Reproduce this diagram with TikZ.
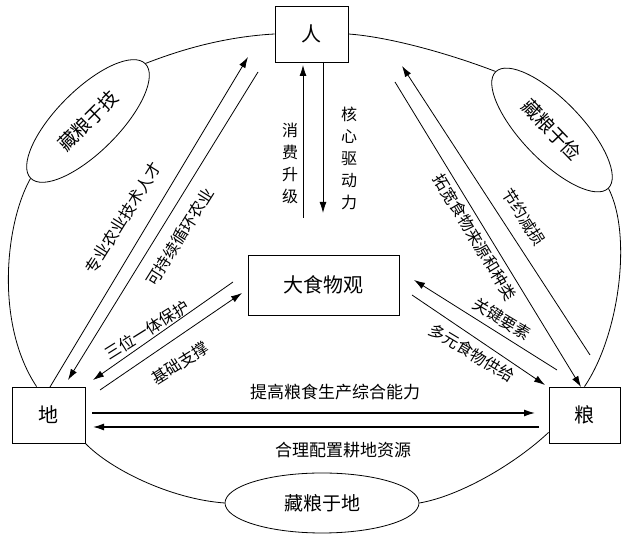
\documentclass[tikz,border=0pt]{standalone}
\usepackage{fontspec}
\setmainfont{Noto Sans CJK SC}
\usetikzlibrary{arrows.meta,shapes.geometric,calc}
\begin{document}
\begin{tikzpicture}[x=1pt,y=1pt,
  box/.style={draw, line width=0.8pt, minimum width=73pt, minimum height=56pt, inner sep=0pt, font=\fontsize{20}{20}\selectfont},
  ell/.style={draw, ellipse, line width=0.8pt, inner sep=0pt, font=\fontsize{19}{19}\selectfont},
  conn/.style={line width=0.8pt},
  arr/.style={conn, -{Latex[length=11pt,width=7pt]}},
  harr/.style={line width=1.3pt, -{Latex[length=11pt,width=7pt]}},
  lbl/.style={font=\fontsize{16}{16}\selectfont, inner sep=0pt},
  vlbl/.style={font=\fontsize{16}{22}\selectfont, inner sep=0pt, align=center}]
\useasboundingbox (0,0) rectangle (624,534);
% boxes
\node[box] (ren) at (311.5,500) {人};
\node[box, minimum width=151pt, minimum height=60pt] (dsw) at (323.5,249) {大食物观};
\node[box] (di) at (48.5,119) {地};
\node[box, minimum width=71pt] (liang) at (584.5,119) {粮};
% ellipses
\node[ell, minimum width=162pt, minimum height=62pt, rotate=45] (eji) at (88,413) {藏粮于技};
\node[ell, minimum width=162pt, minimum height=60pt, rotate=-46] (ejian) at (552,404) {藏粮于俭};
\node[ell, minimum width=194pt, minimum height=60pt] (edi) at (322,31) {藏粮于地};
% outer ring
\draw[conn] (ren.west) .. controls (220,497) and (175,482) .. (eji.east);
\draw[conn] (eji.west) .. controls (5,310) and (-5,210) .. ($(di.north west)+(25,0)$);
\draw[conn] (di.south east) .. controls (110,65) and (170,35) .. (edi.west);
\draw[conn] (edi.east) .. controls (460,38) and (515,70) .. ($(liang.south west)+(0,11)$);
\draw[conn] (liang.north) .. controls (620,200) and (632,300) .. (ejian.east);
\draw[conn] (ejian.west) .. controls (450,480) and (390,497) .. (ren.east);
% arrow end points
\coordinate (a1s) at (50,147);   \coordinate (a1e) at (248,477);
\coordinate (a2s) at (258,462);  \coordinate (a2e) at (68,154);
\coordinate (a3s) at (323,472);  \coordinate (a3e) at (323,321);
\coordinate (a4s) at (303,316);  \coordinate (a4e) at (303,469);
\coordinate (a5s) at (233,252);  \coordinate (a5e) at (93,154);
\coordinate (a6s) at (100,144);  \coordinate (a6e) at (242,241);
\coordinate (a7s) at (557,164);  \coordinate (a7e) at (414,254);
\coordinate (a8s) at (412,239);  \coordinate (a8e) at (545,149);
\coordinate (a9s) at (590,179);  \coordinate (a9e) at (402,468);
\coordinate (a10s) at (395,452); \coordinate (a10e) at (581,147);
\coordinate (a11s) at (92,121);  \coordinate (a11e) at (535,121);
\coordinate (a12s) at (539,107); \coordinate (a12e) at (93,107);
% arrows
\draw[arr] (a1s) -- (a1e);
\draw[arr] (a2s) -- (a2e);
\draw[arr] (a3s) -- (a3e);
\draw[arr] (a4s) -- (a4e);
\draw[arr] (a5s) -- (a5e);
\draw[arr] (a6s) -- (a6e);
\draw[arr] (a7s) -- (a7e);
\draw[arr] (a8s) -- (a8e);
\draw[arr] (a9s) -- (a9e);
\draw[arr] (a10s) -- (a10e);
\draw[harr] (a11s) -- (a11e);
\draw[harr] (a12s) -- (a12e);
% labels
\node[lbl, rotate=58] (l1) at (123,316) {专业农业技术人才};
\node[lbl, rotate=58] (l2) at (180,297) {可持续循环农业};
\node[vlbl] (l3) at (290,371) {消\\费\\升\\级};
\node[vlbl] (l4) at (349,376) {核\\心\\驱\\动\\力};
\node[lbl, rotate=32] (l5) at (147,204) {三位一体保护};
\node[lbl, rotate=32] (l6) at (180,171) {基础支撑};
\node[lbl, rotate=-31] (l7) at (502,215) {关键要素};
\node[lbl, rotate=-31] (l8) at (472,181) {多元食物供给};
\node[lbl, rotate=-59] (l9) at (475,297) {拓宽食物来源和种类};
\node[lbl, rotate=-58] (l10) at (524,317) {节约减损};
\node[lbl, font=\fontsize{17}{17}\selectfont] (l11) at (335,142) {提高粮食生产综合能力};
\node[lbl, font=\fontsize{17}{17}\selectfont] (l12) at (343,84) {合理配置耕地资源};
\end{tikzpicture}
\end{document}
